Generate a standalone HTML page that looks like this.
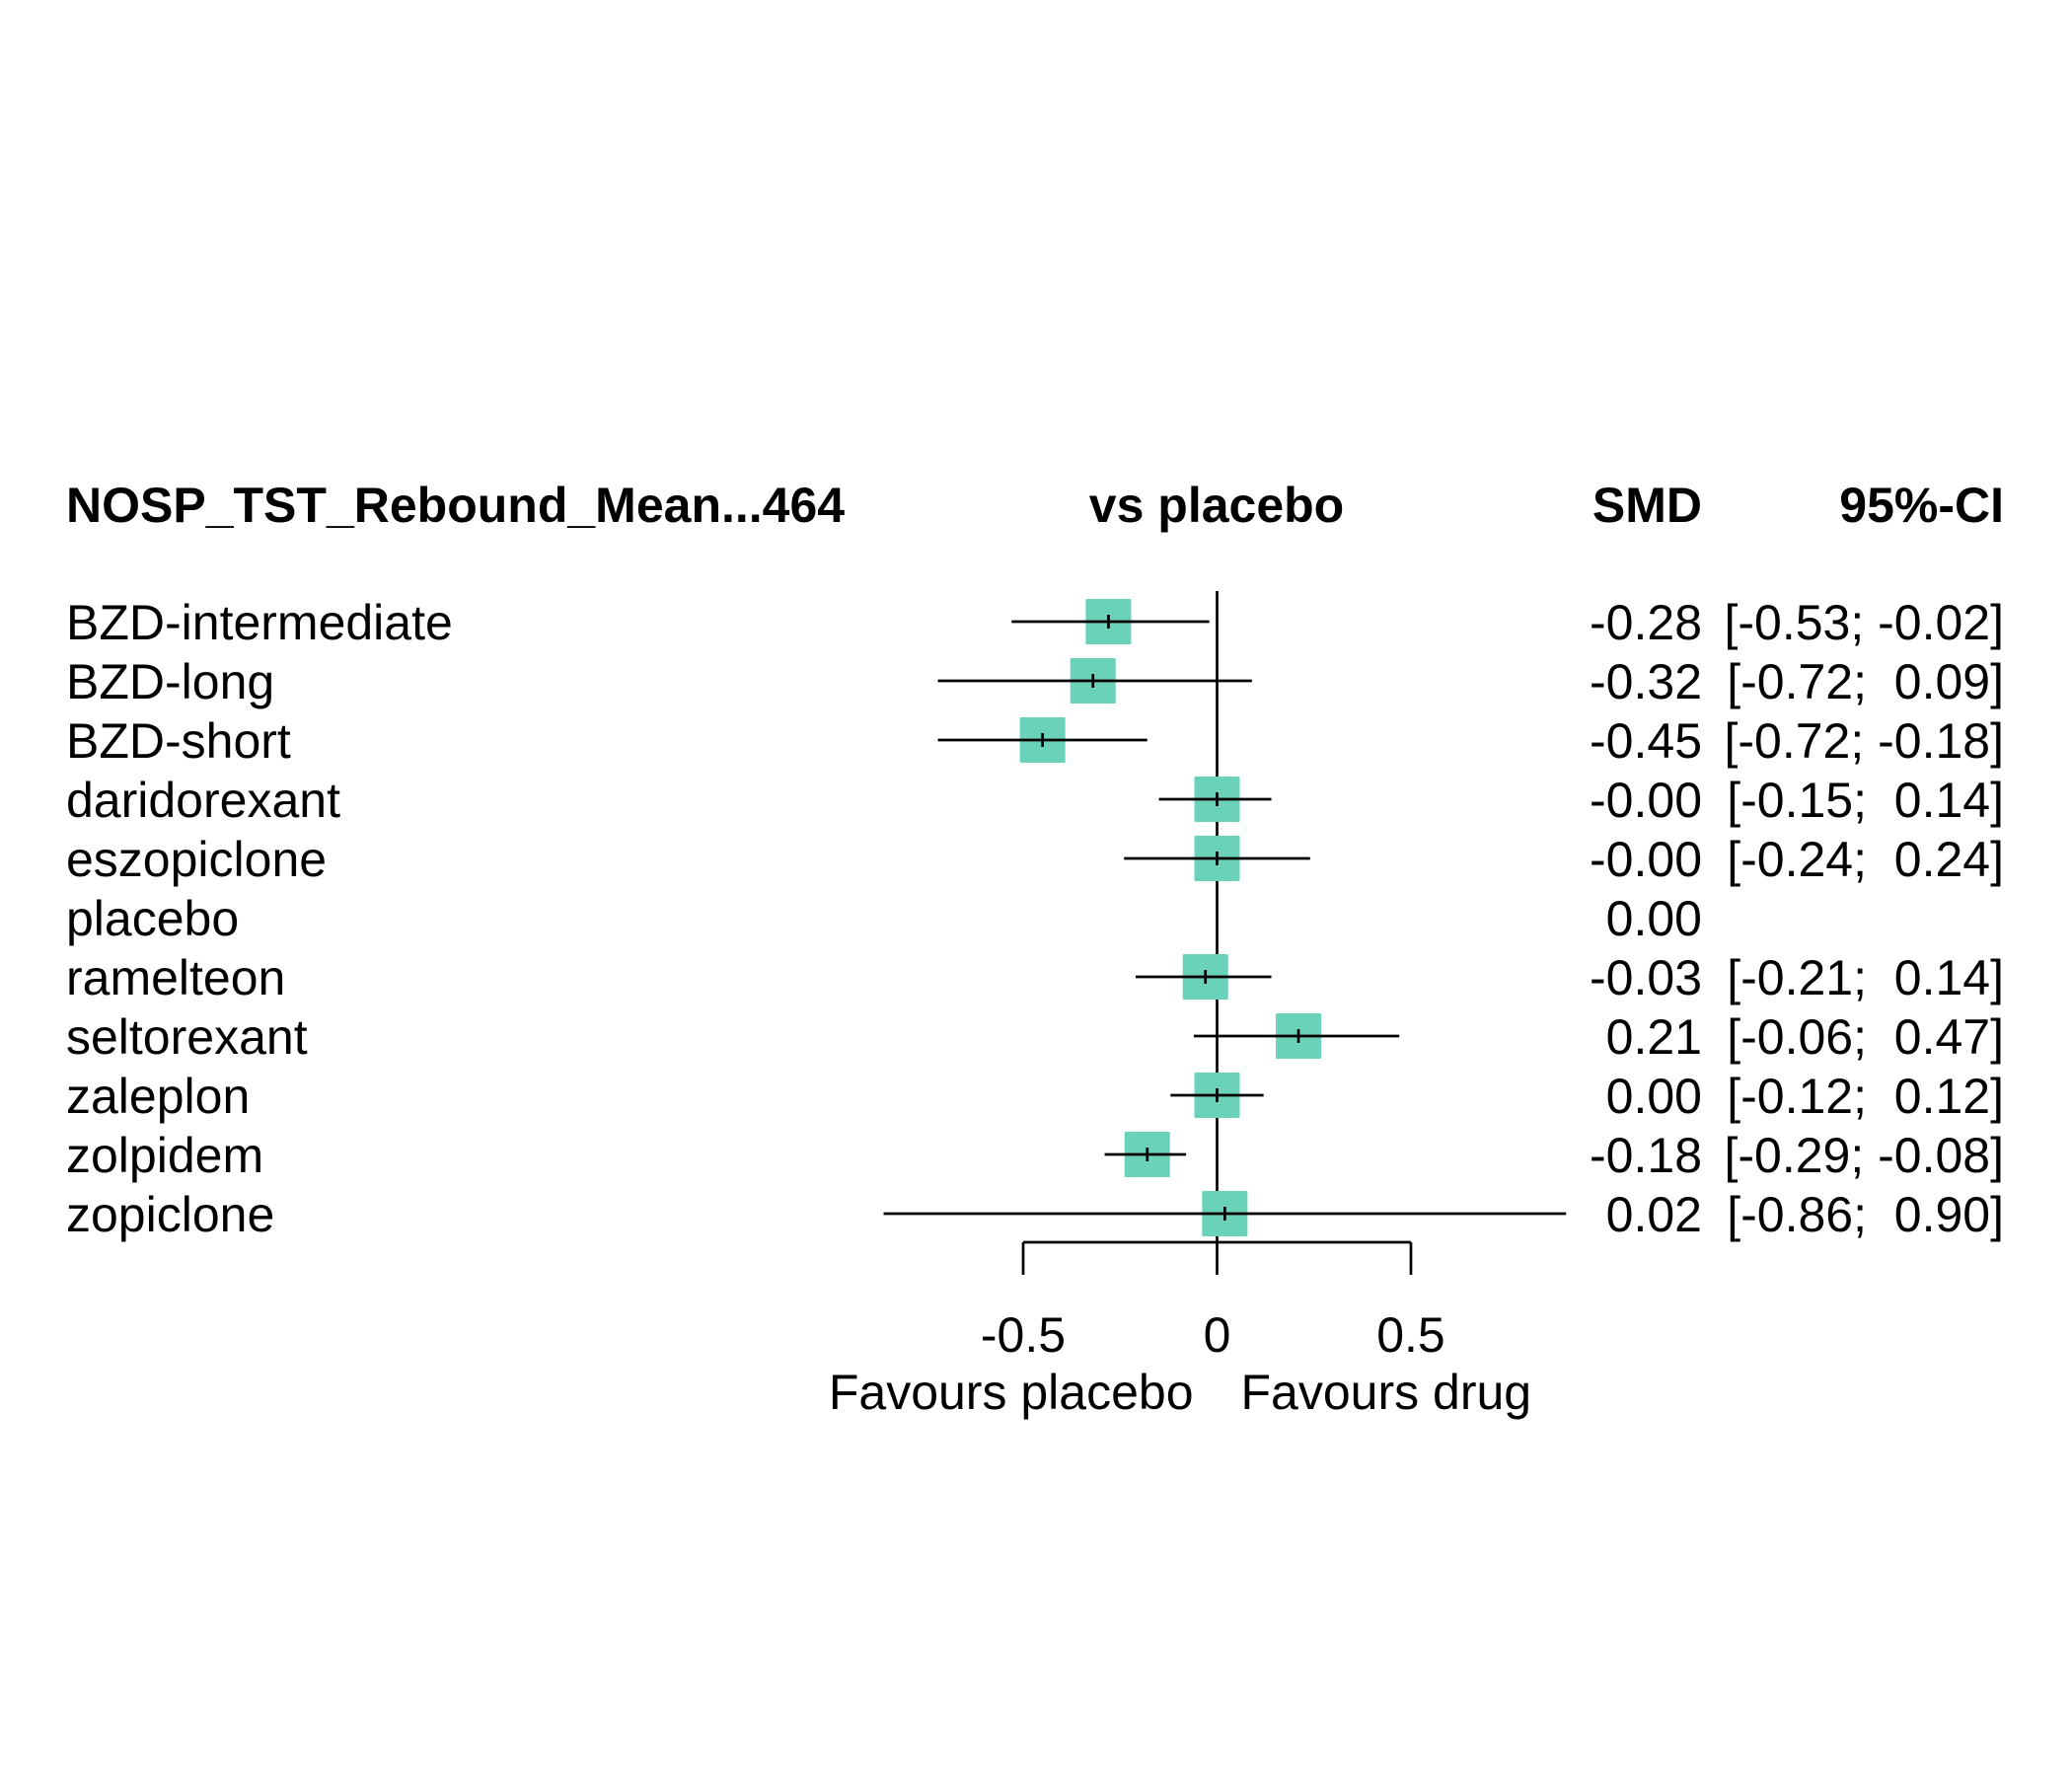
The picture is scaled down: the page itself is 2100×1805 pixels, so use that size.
<!DOCTYPE html>
<html><head><meta charset="utf-8"><style>
html,body{margin:0;padding:0;background:#fff}
svg text{font-family:"Liberation Sans",Arial,sans-serif;font-size:50px;fill:#000;white-space:pre}
</style></head><body>
<svg id="chart" width="2100" height="1800" viewBox="0 0 2100 1800" xmlns="http://www.w3.org/2000/svg">
<text x="67" y="529" font-weight="bold">NOSP_TST_Rebound_Mean...464</text>
<text x="1233" y="529" font-weight="bold" text-anchor="middle">vs placebo</text>
<text x="1725" y="529" font-weight="bold" text-anchor="end">SMD</text>
<text x="2031" y="529" font-weight="bold" text-anchor="end">95%-CI</text>
<g id="marks"></g>
</svg>
<script>
const treatments=["BZD-intermediate","BZD-long","BZD-short","daridorexant","eszopiclone","placebo","ramelteon","seltorexant","zaleplon","zolpidem","zopiclone"];
const smd=[-0.28,-0.32,-0.45,-0.00,-0.00,0.00,-0.03,0.21,0.00,-0.18,0.02];
const lower=[-0.53,-0.72,-0.72,-0.15,-0.24,null,-0.21,-0.06,-0.12,-0.29,-0.86];
const upper=[-0.02,0.09,-0.18,0.14,0.24,null,0.14,0.47,0.12,-0.08,0.90];
const tickValues=[-0.5,0,0.5];
const tickLabels=["-0.5","0","0.5"];
const NS="http://www.w3.org/2000/svg";
const g=document.getElementById('marks');
const x0=1233.5, unit=393, y0=630, dy=60;
function xs(v){return x0+v*unit;}
function ys(i){return y0+i*dy;}
function el(t,a){const e=document.createElementNS(NS,t);for(const k in a)e.setAttribute(k,a[k]);g.appendChild(e);return e;}
function fmt(v){let s=Math.abs(v).toFixed(2);return (v<0||Object.is(v,-0)?"-":"")+s;}
function fmtCI(v){let s=fmt(v);return s[0]==="-"?s:" "+s;}
const n=treatments.length;
const ref=el('line',{x1:xs(0),x2:xs(0),y1:ys(0)-31,y2:1259,stroke:'#000','stroke-width':2.7});


treatments.forEach((t,i)=>{
  const y=ys(i);
  const lab=el('text',{x:67,y:y+18});lab.textContent=t;
  
  
  const sv=el('text',{x:1725,y:y+18,'text-anchor':'end'});
  sv.textContent=(i===5?"0.00":fmt(smd[i]));
  
  
  if(lower[i]!==null){
    const ci=el('text',{x:2031,y:y+18,'text-anchor':'end'});
    ci.textContent="["+fmtCI(lower[i])+"; "+fmtCI(upper[i])+"]";
    
    
    const bx=el('rect',{x:xs(smd[i])-23,y:y-23,width:46,height:46,fill:'#69d2b9',rx:1});
    
    
    const ln=el('line',{x1:xs(lower[i]),x2:xs(upper[i]),y1:y,y2:y,stroke:'#000','stroke-width':2.7});
    
    
    const tk=el('line',{x1:xs(smd[i]),x2:xs(smd[i]),y1:y-7,y2:y+7,stroke:'#000','stroke-width':2.7});
    
    
  }
});
const ax=el('line',{x1:xs(tickValues[0]),x2:xs(tickValues[tickValues.length-1]),y1:1259,y2:1259,stroke:'#000','stroke-width':2.7});


tickValues.forEach((v,i)=>{
  const tk=el('line',{x1:xs(v),x2:xs(v),y1:1259,y2:1292,stroke:'#000','stroke-width':2.7});
  
  
  const tl=el('text',{x:xs(v),y:1370,'text-anchor':'middle'});
  tl.textContent=tickLabels[i];
  
  
});
const fp=el('text',{x:xs(0)-24,y:1428,'text-anchor':'end'});fp.textContent="Favours placebo";


const fd=el('text',{x:xs(0)+24,y:1428,'text-anchor':'start'});fd.textContent="Favours drug";


</script>
</body></html>
